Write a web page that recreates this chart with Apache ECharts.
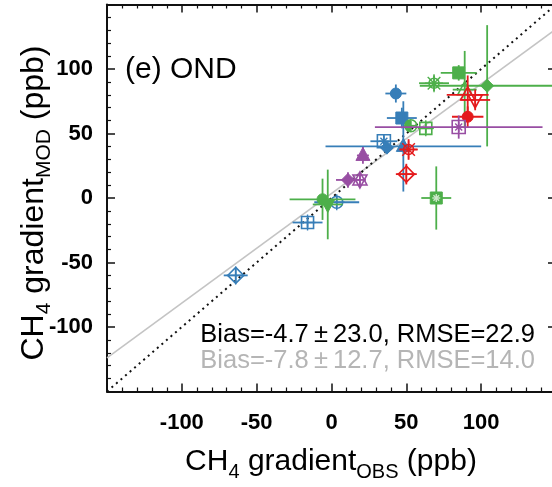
<!DOCTYPE html>
<html><head><meta charset="utf-8">
<script src="https://cdn.jsdelivr.net/npm/echarts@6/dist/echarts.min.js"></script>
<style>html,body{margin:0;padding:0;background:#fff}#c{width:552px;height:487px}</style>
</head><body><div id="c"></div>
<script>
// ---------------- data ----------------
const pointIds = ['B1','B2','B3','B4','B7','B5','B6','B8',
                  'G1','G2','G3','G4','G5','G6','G7','G8','G9',
                  'R1','R2','R3','R4','R5',
                  'P1','P2','P3','P4'];
const obsVal = [43, 47, 35, 37, 48, 3.5, -16, -64,
                85, 68.5, 104, 89, 63, 53, 70, -6, -2.5,
                91, 96, 91, 51.5, 50,
                21, 11, 19, 85];
const modVal = [81, 62, 44, 39, 40, -3.3, -19, -60,
                97, 89, 87, 84, 54, 56, 0, -1, -5,
                80, 76, 63, 37.6, 18.5,
                33, 14, 14, 55];
const obsErr = [7, 10, 9, 4, 52, 15, 10, 8,
                12, 10, 45, 8, 5, 4, 10, 22, 10,
                14, 10, 10.5, 6, 7,
                4, 8, 4, 56];
const modErr = [7, 8, 5, 4, 35, 4, 4, 5,
                6, 6, 47, 30, 4, 4, 24.5, 16, 27,
                15, 8, 8, 8, 8,
                6.5, 6, 5, 9];
const lineX = [-150, 150];
const oneToOneY = [-150, 150];
const fitY = [-124, 131];
const panelLabel = '(e) OND';
const statsAll = 'Bias=-4.7\u2009\u00b1\u200923.0, RMSE=22.9';
const statsSub = 'Bias=-7.8\u2009\u00b1\u200912.7, RMSE=14.0';

// ---------------- styles ----------------
const COLORS = {B:'#377eb8', G:'#4daf4a', R:'#e41a1c', P:'#984ea3'};
const markerOf = {
  B1:'fcircle', B2:'fsquare', B3:'osquarestar', B4:'fdiamond', B7:'ftri', B5:'ocirclecross', B6:'osquarecross', B8:'odiamondcross',
  G1:'fsquare', G2:'ocirclestar', G3:'fdiamond', G4:'otri', G5:'osquarecross', G6:'halfcircle', G7:'fsquarex', G8:'fcircle', G9:'ftridown',
  R1:'otri', R2:'otridown', R3:'fcircle', R4:'ocirclestar', R5:'odiamondcross',
  P1:'ftri', P2:'fdiamond', P3:'hexagram', P4:'osquarestar'
};
const FONT = '"Liberation Sans", Arial, sans-serif';

function marker(k, cx, cy, col){
  const open = {fill:'rgba(255,255,255,0)', stroke:col, lineWidth:1.6};
  const full = {fill:col, stroke:col, lineWidth:1};
  const ln = (x1,y1,x2,y2,c)=>({type:'line',shape:{x1,y1,x2,y2},style:{stroke:c||col,lineWidth:1.4}});
  const poly = (pts,st)=>({type:'polygon',shape:{points:pts},style:st});
  const aster = (r,c)=>[ln(cx-r,cy,cx+r,cy,c),ln(cx,cy-r,cx,cy+r,c),ln(cx-r*0.7,cy-r*0.7,cx+r*0.7,cy+r*0.7,c),ln(cx-r*0.7,cy+r*0.7,cx+r*0.7,cy-r*0.7,c)];
  switch(k){
    case 'fcircle': return [{type:'circle',shape:{cx,cy,r:5.5},style:full}];
    case 'fsquare': return [{type:'rect',shape:{x:cx-6,y:cy-6,width:12,height:12},style:full}];
    case 'fsquarex': return [{type:'rect',shape:{x:cx-6,y:cy-6,width:12,height:12},style:full}].concat(aster(4,'#cfe8cc'));
    case 'ftri': return [poly([[cx,cy-8],[cx+7,cy+5],[cx-7,cy+5]],full)];
    case 'ftridown': return [poly([[cx,cy+8],[cx+7,cy-5],[cx-7,cy-5]],full)];
    case 'fdiamond': return [poly([[cx,cy-6.5],[cx+6.5,cy],[cx,cy+6.5],[cx-6.5,cy]],full)];
    case 'otri': return [poly([[cx,cy-8],[cx+7,cy+5],[cx-7,cy+5]],open), ln(cx,cy-8,cx,cy+5)];
    case 'otridown': return [poly([[cx,cy+8],[cx+7,cy-5],[cx-7,cy-5]],open), ln(cx,cy+8,cx,cy-5)];
    case 'hexagram': return [poly([[cx,cy-8],[cx+7,cy+5],[cx-7,cy+5]],open), poly([[cx,cy+8],[cx+7,cy-5],[cx-7,cy-5]],open), ln(cx,cy-8,cx,cy+8)];
    case 'ocirclecross': return [{type:'circle',shape:{cx,cy,r:6},style:open}, ln(cx-8,cy,cx+8,cy), ln(cx,cy-8,cx,cy+8)];
    case 'osquarecross': return [{type:'rect',shape:{x:cx-6,y:cy-6,width:12,height:12},style:open}, ln(cx-8,cy,cx+8,cy), ln(cx,cy-8,cx,cy+8)];
    case 'odiamondcross': return [poly([[cx,cy-8],[cx+8,cy],[cx,cy+8],[cx-8,cy]],open), ln(cx-9,cy,cx+9,cy), ln(cx,cy-9,cx,cy+9)];
    case 'osquarestar': return [{type:'rect',shape:{x:cx-6.5,y:cy-6.5,width:13,height:13},style:open}].concat(aster(5));
    case 'ocirclestar': return [{type:'circle',shape:{cx,cy,r:5},style:open}].concat(aster(9));
    case 'halfcircle': return [{type:'circle',shape:{cx,cy,r:6},style:open},
        {type:'sector',shape:{cx,cy,r:6,r0:0,startAngle:Math.PI/2,endAngle:Math.PI*1.5},style:{fill:col}}];
  }
  return [];
}

function renderItem(params, api){
  const x=api.value(0), y=api.value(1), ex=api.value(2), ey=api.value(3), idx=api.value(4);
  const id = pointIds[idx];
  const col = COLORS[id[0]];
  const c = api.coord([x,y]);
  const l = api.coord([x-ex,y]), r = api.coord([x+ex,y]);
  const t = api.coord([x,y+ey]), b = api.coord([x,y-ey]);
  const lw = 1.8;
  const children = [
    {type:'line', shape:{x1:l[0],y1:l[1],x2:r[0],y2:r[1]}, style:{stroke:col,lineWidth:lw}},
    {type:'line', shape:{x1:t[0],y1:t[1],x2:b[0],y2:b[1]}, style:{stroke:col,lineWidth:lw}}
  ].concat(marker(markerOf[id], c[0], c[1], col));
  return {type:'group', children};
}

const pointData = pointIds.map((id,i)=>[obsVal[i], modVal[i], obsErr[i], modErr[i], i]);

function axisCommon(pos, showLabel, isX){
  return {
    type:'value', position:pos, min:-150, max:150, interval:50,
    axisLine:{show:true, onZero:false, lineStyle:{color:'#111', width:2}},
    axisTick:{show:true, inside:true, length:8, lineStyle:{color:'#111', width:1.5}},
    minorTick:{show:true, splitNumber:5, length:4, lineStyle:{color:'#111', width:1.2}},
    splitLine:{show:false}, minorSplitLine:{show:false},
    axisLabel:{show:showLabel, color:'#000', fontFamily:FONT, fontWeight:'bold', fontSize:22,
      margin: isX ? 20 : 14,
      formatter: v => (v===-150 || v===150) ? '' : String(v)}
  };
}

const chart = echarts.init(document.getElementById('c'), null, {renderer:'canvas'});
chart.setOption({
  animation:false,
  backgroundColor:'#fff',
  grid:{left:107, top:4.5, width:449, height:387, containLabel:false, outerBoundsMode:'none'},
  xAxis:[axisCommon('bottom', true, true), axisCommon('top', false, true)],
  yAxis:[axisCommon('left', true, false), axisCommon('right', false, false)],
  series:[
    {type:'line', xAxisIndex:0, yAxisIndex:0, data: lineX.map((v,i)=>[v, fitY[i]]), symbol:'none', silent:true,
     lineStyle:{color:'#c4c4c4', width:1.6}, z:1},
    {type:'line', xAxisIndex:0, yAxisIndex:0, data: lineX.map((v,i)=>[v, oneToOneY[i]]), symbol:'none', silent:true,
     lineStyle:{color:'#111', width:2, type:[2,4]}, z:1},
    {type:'custom', xAxisIndex:0, yAxisIndex:0, renderItem, data: pointData, clip:false, z:3,
     encode:{x:0, y:1}}
  ],
  graphic:[
    {type:'text', left:125, top:55, style:{text:panelLabel, font:'30px '+FONT, fill:'#000'}},
    {type:'text', z:10, style:{x:535, y:335, text:statsAll, font:'25.5px '+FONT, fill:'#000', textAlign:'right', textVerticalAlign:'middle'}},
    {type:'text', z:10, style:{x:535, y:361, text:statsSub, font:'25.5px '+FONT, fill:'#b5b5b5', textAlign:'right', textVerticalAlign:'middle'}},
    {type:'text', style:{x:331, y:462, textAlign:'center', textVerticalAlign:'middle',
      text:'{a|CH}{s|4}{a| gradient}{s|OBS}{a| (ppb)}',
      rich:{a:{fontSize:30, fontFamily:FONT, fill:'#000'}, s:{fontSize:20, fontFamily:FONT, fill:'#000', padding:[20,0,0,0]}}}},
    {type:'text', rotation:Math.PI/2, x:34, y:203, style:{x:0, y:0, textAlign:'center', textVerticalAlign:'middle',
      text:'{a|CH}{s|4}{a| gradient}{s|MOD}{a| (ppb)}',
      rich:{a:{fontSize:32, fontFamily:FONT, fill:'#000'}, s:{fontSize:21, fontFamily:FONT, fill:'#000', padding:[20,0,0,0]}}}}
  ]
});
</script></body></html>
